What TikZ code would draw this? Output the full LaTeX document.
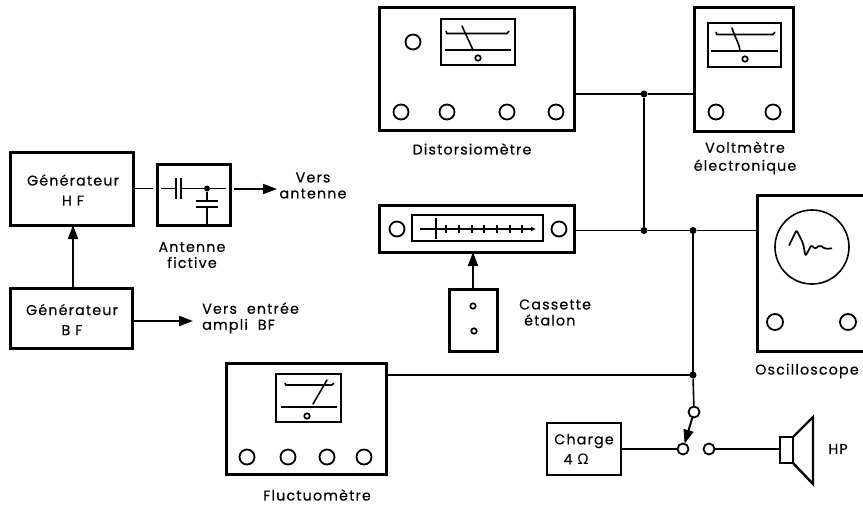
\documentclass[tikz,border=0pt]{standalone}
\usepackage{fontspec}
\setmainfont{Poppins}[LetterSpace=8,FakeBold=0.25]
\newfontfamily\symfont{DejaVu Sans}
\usetikzlibrary{arrows.meta}
\newcommand{\bx}[6]{% name x1 y1 x2 y2 style
  \pgfmathsetmacro{\cxx}{(#2+#4)/2}\pgfmathsetmacro{\cyy}{(#3+#5)/2}
  \pgfmathsetmacro{\wdd}{#4-#2}\pgfmathsetmacro{\htt}{#5-#3}
  \node[#6,minimum width=\wdd pt,minimum height=\htt pt] (#1) at (\cxx,\cyy) {};}
\tikzset{
  heavy/.style={draw,line width=3pt,inner sep=0,outer sep=0},
  medium/.style={draw,line width=2.6pt,inner sep=0,outer sep=0},
  dial/.style={draw,line width=1.6pt,inner sep=0,outer sep=0},
  knob/.style={circle,draw,line width=1.8pt,minimum size=15pt,inner sep=0,outer sep=0},
  pin/.style={circle,draw,line width=1.7pt,minimum size=5.5pt,inner sep=0,outer sep=0},
  term/.style={circle,draw,line width=1.8pt,minimum size=11pt,inner sep=0,outer sep=0},
  jdot/.style={circle,fill=black,minimum size=7pt,inner sep=0,outer sep=0},
  wire/.style={line width=1.6pt},
  arr/.style={line width=1.5pt,-{Triangle[length=14pt,width=10pt]}},
  lab/.style={font=\fontsize{14.3}{17}\selectfont,inner sep=0,align=center},
  needle/.style={line width=1.6pt,line cap=round}
}
\begin{document}
\begin{tikzpicture}[x=1pt,y=-1pt]
\useasboundingbox (0,0) rectangle (863,507);
\fill[white] (0,0) rectangle (863,507);
% --- left part
\bx{hf}{10}{152}{133}{225}{heavy}
\bx{ant}{157}{164}{230}{225}{heavy}
\bx{bf}{10}{288}{132}{348}{heavy}
\node[lab] (thf) at (73,190) {Générateur\\[3pt]H F};
\node[lab] (tbf) at (72,319.5) {Générateur\\[3pt]B F};
\draw[wire] (hf.east |- 0,188.5) -- (153,188.5);
\coordinate (cin) at (161,188.5);
\coordinate (cout) at (226,188.5);
\node[jdot,minimum size=6pt] (cd) at (207,188.5) {};
\draw[wire] (cin) -- (176,188.5);
\draw[wire] (181,188.5) -- (cout);
\draw[line width=2.4pt] (176,178) -- (176,199);
\draw[line width=2.4pt] (181,178) -- (181,199);
\draw[wire] (cd) -- (207,201);
\draw[line width=2.4pt] (196,201) -- (218,201);
\draw[line width=2.4pt] (196,207) -- (218,207);
\draw[wire] (207,207) -- (207,225);
\coordinate (va) at (277,189);
\draw[arr] (234,189) -- (va);
\node[lab] (tva) at (313,185.5) {Vers\\[-1pt]antenne};
\node[lab] (taf) at (192,255) {Antenne\\[-1pt]fictive};
\draw[arr] (bf.north -| 73,0) -- (hf.south -| 73,0);
\coordinate (vb) at (193,321);
\draw[arr,line width=2.2pt] (bf.east |- vb) -- (vb);
\node[lab,align=left,anchor=west] (tvb) at (202,318) {Vers \ entrée\\[-1pt]ampli \ BF};
% --- distorsiometre
\bx{dist}{379}{7}{574}{130}{heavy}
\bx{dm}{441}{19}{515}{65}{dial}
\node[knob] (d0) at (413,42) {};
\node[knob] (d1) at (401,112) {};
\node[knob] (d2) at (447,112) {};
\node[knob] (d3) at (507,112) {};
\node[knob] (d4) at (556,112) {};
\draw[wire] (446,31) -- (447,33.5) -- (507,33.5) -- (509,31);
\draw[wire] (445,50) -- (511,50);
\draw[needle] (462,26) -- (473,50);
\node[pin] (dp) at (478,58) {};
\node[lab] (tdist) at (472,149) {Distorsiomètre};
% --- voltmetre
\bx{volt}{694}{7}{793}{131}{heavy}
\bx{vm}{708}{23}{781}{67}{dial}
\node[knob] (v1) at (716,112) {};
\node[knob] (v2) at (773,112) {};
\draw[wire] (716,32) -- (717,34.5) -- (773,34.5) -- (775,32);
\draw[wire] (711,51) -- (778,51);
\draw[needle] (732,28) .. controls (735,38) and (739,42) .. (740,51);
\node[pin] (vp) at (745,59) {};
\node[lab] (tvolt) at (745,158) {Voltmètre\\[1pt]électronique};
% --- lecteur
\bx{lect}{379}{205}{574}{252}{heavy}
\bx{lm}{412}{215}{543}{241}{dial}
\node[knob] (l1) at (397,229) {};
\node[knob] (l2) at (559,229) {};
\coordinate (sl) at (420,229);
\coordinate (sr) at (536,229);
\draw[wire,-{Latex[length=5pt,width=5pt]}] (sl) -- (sr);
\foreach \tx in {446,459,472,484,497,510,522}{\draw[line width=1.4pt] (\tx,225) -- (\tx,233);}
\draw[line width=1.6pt] (436,218) -- (436,239);
\bx{cass}{449}{289}{497}{351}{heavy}
\node[pin] (c1) at (473,306) {};
\node[pin] (c2) at (474,331) {};
\draw[arr,line width=2pt] (cass.north) -- (cass.north |- lect.south);
\node[lab,align=left,anchor=west] (tcass) at (519,312.5) {Cassette\\[-1pt]\ étalon};
% --- oscilloscope
\coordinate (oa) at (863,195);
\coordinate (ob) at (863,351);
\draw[line width=3pt] (oa) -- (757,195) coordinate (osc) -- (757,351) -- (ob);
\node[circle,draw,line width=1.6pt,minimum size=74pt,inner sep=0] (scr) at (812,247) {};
\node[knob,minimum size=16pt] (o1) at (775,322) {};
\node[knob,minimum size=16pt] (o2) at (848,322) {};
\draw[line width=1.7pt,line join=round,rounded corners=2pt] (789,245.7) -- (796.5,230) -- (803,243) -- (805.5,256) -- (811.5,245) -- (815,249) -- (820,245) -- (825,249) -- (832,248.3);
\node[lab,anchor=west] (tosc) at (755,371) {Oscilloscope};
% --- fluctuometre
\bx{fluc}{226}{363}{386}{474}{heavy}
\bx{fm}{276}{374}{341}{422}{dial}
\node[knob] (f1) at (247,457) {};
\node[knob] (f2) at (288,457) {};
\node[knob] (f3) at (327,457) {};
\node[knob] (f4) at (364,457) {};
\draw[wire] (285,383) -- (286,385) -- (332,385) -- (334,383);
\draw[line width=2pt] (281,407) -- (337,407);
\draw[needle] (327,380) -- (313,404);
\node[pin] (fp) at (307,416) {};
\node[lab] (tfluc) at (317,495) {Fluctuomètre};
% --- liaisons
\node[jdot] (j1) at (644,94) {};
\node[jdot] (j2) at (644,230.5) {};
\node[jdot] (j3) at (693,230.5) {};
\node[jdot] (j4) at (693,375) {};
\draw[wire] (dist.east |- j1) -- (j1) -- (volt.west |- j1);
\draw[wire] (j1) -- (j2);
\draw[wire] (lect.east |- j2) -- (j2) -- (j3) -- (757,230.5);
\draw[wire] (j3) -- (j4);
\draw[wire] (fluc.east |- j4) -- (j4);
% --- charge et HP
\node[term] (s1) at (694,412) {};
\node[term] (s2) at (683,449) {};
\node[term] (s3) at (709,449) {};
\draw[wire] (j4) -- (s1);
\draw[line width=2pt,-{Triangle[length=14pt,width=10pt]}] (s1) -- (s2);
\bx{chg}{547}{423}{621}{475}{medium}
\node[lab] (tchg) at (584,441) {Charge};
\node[lab] (t4) at (576,459) {4 {\symfont Ω}};
\draw[wire] (chg.east |- s2) -- (s2);
\bx{spk}{780}{437}{793}{463}{medium}
\draw[wire] (s3) -- (spk.west |- s3);
\draw[line width=2.4pt,line join=miter] (spk.north east) -- (813,417) -- (813,484) -- (spk.south east);
\node[lab] (thp) at (838,449) {HP};
\end{tikzpicture}
\end{document}
